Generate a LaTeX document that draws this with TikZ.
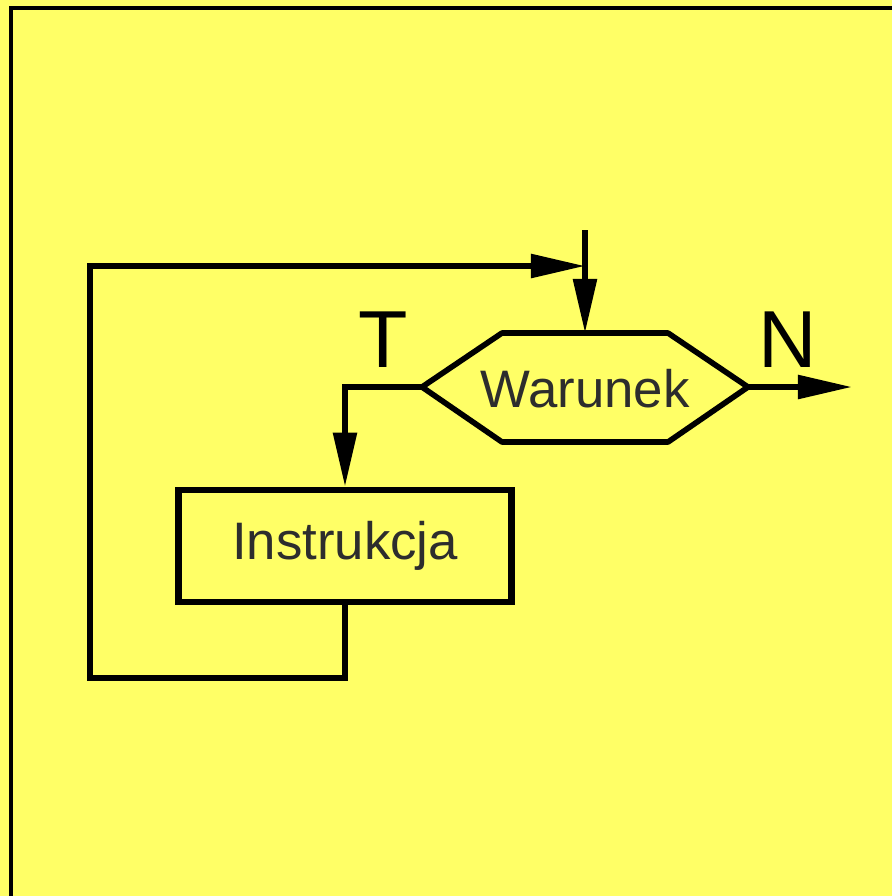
\documentclass[tikz,border=0pt]{standalone}
\usepackage{fontspec}
\setmainfont{Liberation Sans}
\usetikzlibrary{positioning,arrows.meta}
\definecolor{chartyellow}{RGB}{255,255,102}
\definecolor{labelgray}{RGB}{45,45,45}

\begin{document}
\begin{tikzpicture}[
  x=0.01cm,y=-0.01cm,
  >={Triangle[length=0.54cm,width=0.23cm]},
  cond/.style={inner sep=0pt,font=\fontsize{15}{18}\selectfont,text=labelgray},
  hexline/.style={draw=black,line width=1.6pt,line join=round},
  instr/.style={rectangle,draw=black,line width=1.9pt,minimum width=3.33cm,minimum height=1.12cm,inner sep=0pt,font=\fontsize{15}{18}\selectfont,text=labelgray},
  ar/.style={->,line width=1.6pt,black},
  branch/.style={font=\fontsize{23}{26}\selectfont,inner sep=0pt}
]
% BACKGROUND and frame
\fill[chartyellow] (0,0) rectangle (892,896);
\useasboundingbox (0,0) rectangle (892,896);
\draw[line width=1.3pt,line cap=rect] (11,896) -- (11,8) -- (892,8);

% DECISION: hexagon with its tips
\coordinate (warW) at (422,387);
\coordinate (warE) at (748,387);
\coordinate (warN) at (585,333);
\draw[hexline] (warW) -- (502,333) -- (668,333) -- (warE) -- (668,442) -- (502,442) -- cycle;
\node[cond] (war) at (585,389) {Warunek};

% NODES
\node[instr] (ins) at (345,546) {Instrukcja};
\node[branch] (tlab) at (383,340) {T};
\node[branch] (nlab) at (788,340) {N};

\coordinate (entry) at (585,230);
\coordinate (join) at (585,266);
\coordinate (exit) at (852,387);
\coordinate (back) at (90,678);

% CONNECTORS
\draw[ar] (entry) -- (warN);
\draw[ar] (warE) -- (exit);
\draw[ar] (warW) -| (ins.north);
\draw[ar] (ins.south) |- (back) |- (join);

\end{tikzpicture}
\end{document}
